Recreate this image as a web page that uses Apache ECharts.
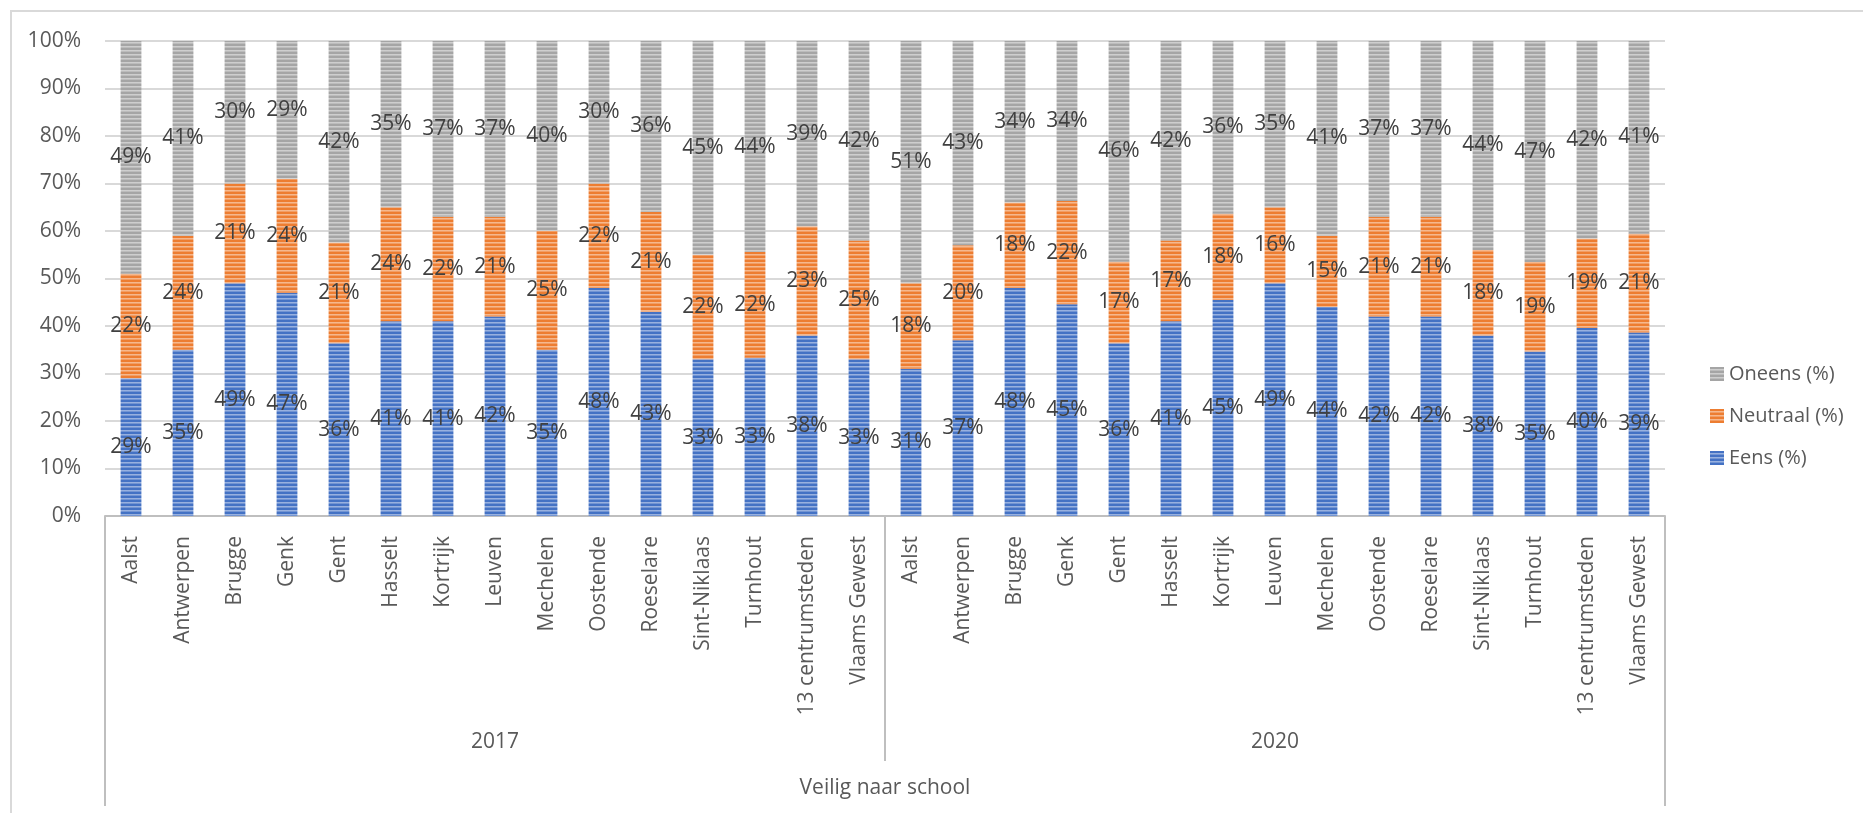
<!DOCTYPE html>
<html>
<head>
<meta charset="utf-8">
<script src="https://cdn.jsdelivr.net/npm/echarts@6/dist/echarts.min.js"></script>
<style>
html,body{margin:0;padding:0;background:#fff;}
#c{width:1863px;height:813px;}
</style>
</head>
<body>
<div id="c"></div>
<script>
const cities = ['Aalst','Antwerpen','Brugge','Genk','Gent','Hasselt','Kortrijk','Leuven','Mechelen','Oostende','Roeselare','Sint-Niklaas','Turnhout','13 centrumsteden','Vlaams Gewest'];
const years = ['2017','2020'];
const topic = ['Veilig naar school'];
const seriesNames = ['Eens (%)','Neutraal (%)','Oneens (%)'];

const eens2017     = [29,35,49,47,36,41,41,42,35,48,43,33,33,38,33];
const neutraal2017 = [22,24,21,24,21,24,22,21,25,22,21,22,22,23,25];
const oneens2017   = [49,41,30,29,42,35,37,37,40,30,36,45,44,39,42];

const eens2020     = [31,37,48,45,36,41,45,49,44,42,42,38,35,40,39];
const neutraal2020 = [18,20,18,22,17,17,18,16,15,21,21,18,19,19,21];
const oneens2020   = [51,43,34,34,46,42,36,35,41,37,37,44,47,42,41];

const yTicks = [0,10,20,30,40,50,60,70,80,90,100];

const categories = cities.concat(cities);
const raw = [
  eens2017.concat(eens2020),
  neutraal2017.concat(neutraal2020),
  oneens2017.concat(oneens2020)
];
// 100% stacked: share of each part in the total of the bar
const totals = categories.map((_, i) => raw[0][i] + raw[1][i] + raw[2][i]);
const shares = raw.map(arr => arr.map((v, i) => v / totals[i] * 100));

const colors = ['#4472C4','#ED7D31','#A5A5A5'];

function mix(hex, t) {
  const r = parseInt(hex.slice(1,3),16), g = parseInt(hex.slice(3,5),16), b = parseInt(hex.slice(5,7),16);
  const f = c => Math.round(c + (255 - c) * t);
  return 'rgb(' + f(r) + ',' + f(g) + ',' + f(b) + ')';
}
function stripe(hex) {
  const cv = document.createElement('canvas');
  cv.width = 8; cv.height = 4;
  const ctx = cv.getContext('2d');
  ctx.fillStyle = hex; ctx.fillRect(0,0,8,4);
  ctx.fillStyle = mix(hex, 0.45); ctx.fillRect(0,2,8,1);
  ctx.fillStyle = mix(hex, 0.25); ctx.fillRect(0,3,8,1);
  return { image: cv, repeat: 'repeat' };
}

const FONT = "'Open Sans', 'Noto Sans', sans-serif";
const FS = 21;
const chart = echarts.init(document.getElementById('c'), null, {renderer: 'canvas'});

const series = seriesNames.map((name, s) => ({
  name: name,
  type: 'bar',
  stack: 'total',
  barWidth: '40%',
  itemStyle: { color: stripe(colors[s]) },
  label: {
    show: true,
    position: 'inside',
    color: '#404040',
    fontFamily: FONT,
    fontSize: FS,
    formatter: p => raw[s][p.dataIndex] + '%'
  },
  emphasis: { disabled: true },
  xAxisIndex: 0,
  data: shares[s]
}));

chart.setOption({
  animation: false,
  backgroundColor: '#fff',
  textStyle: { fontFamily: FONT },
  graphic: [{
    type: 'rect',
    shape: { x: 11, y: 11, width: 1870, height: 820 },
    style: { fill: 'none', stroke: '#d9d9d9', lineWidth: 2 },
    silent: true, z: -10
  }],
  grid: { left: 105, right: 198, top: 41, bottom: 297 },
  legend: {
    orient: 'vertical',
    left: 1705,
    top: 359,
    itemWidth: 14,
    itemHeight: 14,
    itemGap: 22,
    icon: 'rect',
    data: ['Oneens (%)','Neutraal (%)','Eens (%)'],
    textStyle: { color: '#595959', fontSize: 20, fontFamily: FONT }
  },
  yAxis: {
    type: 'value',
    min: 0, max: 100, interval: 10,
    axisLine: { show: false },
    axisTick: { show: false },
    splitLine: { lineStyle: { color: '#d9d9d9', width: 2 } },
    axisLabel: {
      color: '#595959', fontSize: FS, fontFamily: FONT, margin: 24,
      formatter: v => yTicks.indexOf(v) >= 0 ? v + '%' : ''
    }
  },
  xAxis: [
    {
      type: 'category',
      data: categories,
      position: 'bottom',
      axisLine: { lineStyle: { color: '#bfbfbf', width: 2 } },
      axisTick: { show: false },
      axisLabel: { interval: 0, rotate: 90, color: '#595959', fontSize: FS, fontFamily: FONT, margin: 20 }
    },
    {
      type: 'category',
      data: years,
      position: 'bottom',
      axisLine: { show: false },
      axisTick: { show: true, interval: 0, length: 245, lineStyle: { color: '#bfbfbf', width: 2 } },
      axisLabel: { interval: 0, color: '#595959', fontSize: FS, fontFamily: FONT, margin: 216 }
    },
    {
      type: 'category',
      data: topic,
      position: 'bottom',
      axisLine: { show: false },
      axisTick: { show: true, interval: 0, length: 290, lineStyle: { color: '#bfbfbf', width: 2 } },
      axisLabel: { interval: 0, color: '#595959', fontSize: FS, fontFamily: FONT, margin: 262 }
    }
  ],
  series: series
});
</script>
</body>
</html>
